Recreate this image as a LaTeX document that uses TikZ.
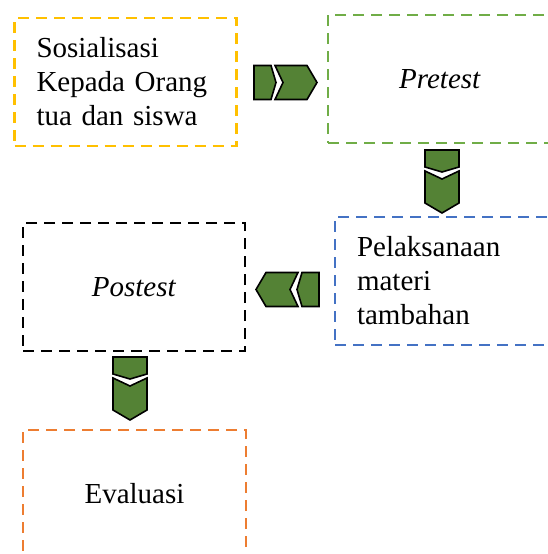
\documentclass[tikz,border=0pt]{standalone}
\usepackage{fontspec}
\setmainfont{Liberation Serif}
\usepackage{tikz}
\definecolor{boxyellow}{HTML}{FFC000}
\definecolor{boxgreen}{HTML}{70AD47}
\definecolor{boxblue}{HTML}{4472C4}
\definecolor{boxorange}{HTML}{ED7D31}
\definecolor{chevgreen}{HTML}{548235}

\tikzset{
	chev/.style={draw, line width=1.6pt, line join=miter, fill=chevgreen},
	chevpair/.pic={
		\draw[chev] (-19,-17) -- (-2,-17) -- (3,0) -- (-2,17) -- (-19,17) -- cycle;
		\draw[chev] (2,-17) -- (34,-17) -- (44,0) -- (34,17) -- (2,17) -- (10,0) -- cycle;
	}
}

\begin{document}
\begin{tikzpicture}[x=1pt, y=-1pt,
	stage/.style={rectangle, draw, line width=2.6pt, dash pattern=on 11pt off 7pt,
		minimum width=222pt, minimum height=128pt, inner sep=0pt,
		font=\fontsize{29}{34}\selectfont},
	stagetext/.style={stage, text width=178pt, inner xsep=22pt, align=left}]
	\useasboundingbox (0,0) rectangle (548,554);

	\node[stagetext, draw=boxyellow] at (125.5,82) (sos) {Sosialisasi\\Kepada Orang\\tua dan siswa};
	\node[stage, draw=boxgreen, minimum width=224pt] at (440,79) (pre) {\textit{Pretest}};
	\node[stagetext, draw=boxblue] at (446,281) (pel) {Pelaksanaan\\materi\\tambahan};
	\node[stage, draw=black] at (134,287) (post) {\textit{Postest}};
	\node[stage, draw=boxorange, minimum width=223pt] at (134.5,494) (eva) {Evaluasi};

	\pic (sp) at (273,82.5) {chevpair};
	\pic[rotate=-90] (pp) at (442,169) {chevpair};
	\pic[rotate=180] (pl) at (300,289.5) {chevpair};
	\pic[rotate=-90] (pe) at (130,376) {chevpair};
\end{tikzpicture}
\end{document}
